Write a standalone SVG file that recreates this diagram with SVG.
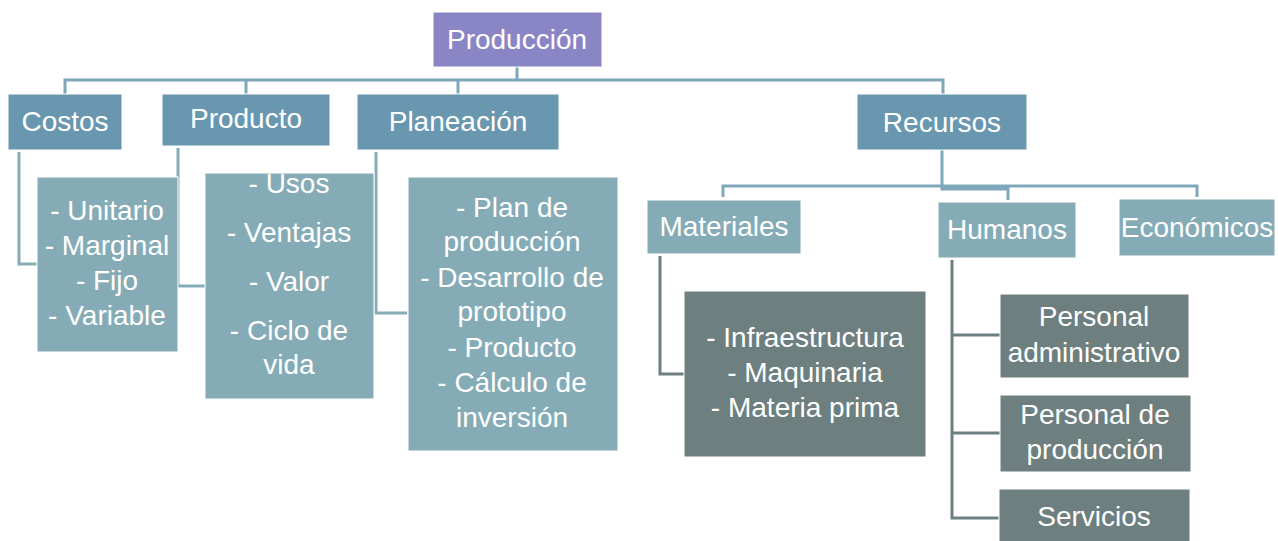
<svg xmlns="http://www.w3.org/2000/svg" width="1278" height="541" viewBox="0 0 1278 541">
<style>
text{font-family:"Liberation Sans",Arial,sans-serif;font-size:28px;fill:#fff;text-anchor:middle}
.root{fill:#8a86c6;stroke:#fff;stroke-width:1}
.l1{fill:#6997af;stroke:#fff;stroke-width:1}
.l2{fill:#85acb6;stroke:#fff;stroke-width:1}
.l3{fill:#6e7f80;stroke:#fff;stroke-width:1}
.c1{fill:none;stroke:#7ea7b9;stroke-width:3}
.c2{fill:none;stroke:#85acb6;stroke-width:3}
.c3{fill:none;stroke:#6e7f80;stroke-width:3}
</style>
<rect width="1278" height="541" fill="#fff"/>
<g id="connectors">
<path class="c1" d="M517 67V80M65 94V80H943V94M246 80V94M458 80V94"/>
<path class="c1" d="M942 150V186M723 197V186H1197V197M942 186V189H1008V200"/>
<path class="c2" d="M19 152V264H38"/>
<path class="c2" d="M178 148V286H205"/>
<path class="c2" d="M376 152V313H407"/>
<path class="c3" d="M660 256V374H684"/>
<path class="c3" d="M952 260V518H999M952 335H1000M952 433H1000"/>
</g>
<g id="produccion"><rect class="root" x="433" y="12" width="169" height="55"/><text x="517" y="49">Producción</text></g>
<g id="costos"><rect class="l1" x="8" y="94" width="114" height="56"/><text x="65" y="131">Costos</text></g>
<g id="producto"><rect class="l1" x="162" y="94" width="168" height="52"/><text x="246" y="128">Producto</text></g>
<g id="planeacion"><rect class="l1" x="357" y="94" width="202" height="56"/><text x="458" y="131">Planeación</text></g>
<g id="recursos"><rect class="l1" x="857" y="94" width="170" height="56"/><text x="942" y="132">Recursos</text></g>
<g id="costos-detalle"><rect class="l2" x="37" y="177" width="141" height="175"/>
<text x="107" y="220">- Unitario</text><text x="107" y="255">- Marginal</text><text x="107" y="290">- Fijo</text><text x="107" y="325">- Variable</text></g>
<g id="producto-detalle"><rect class="l2" x="205" y="173" width="169" height="226"/>
<text x="289" y="193">- Usos</text><text x="289" y="242">- Ventajas</text><text x="289" y="291">- Valor</text><text x="289" y="340">- Ciclo de</text><text x="289" y="374">vida</text></g>
<g id="planeacion-detalle"><rect class="l2" x="408" y="177" width="210" height="274"/>
<text x="512" y="217">- Plan de</text><text x="512" y="251">producción</text><text x="512" y="287">- Desarrollo de</text><text x="512" y="321">prototipo</text><text x="512" y="357">- Producto</text><text x="512" y="392">- Cálculo de</text><text x="512" y="427">inversión</text></g>
<g id="materiales"><rect class="l2" x="647" y="200" width="154" height="54"/><text x="724" y="236">Materiales</text></g>
<g id="humanos"><rect class="l2" x="938" y="202" width="138" height="56"/><text x="1007" y="239">Humanos</text></g>
<g id="economicos"><rect class="l2" x="1119" y="199" width="156" height="57"/><text x="1197" y="237">Económicos</text></g>
<g id="materiales-detalle"><rect class="l3" x="684" y="291" width="242" height="166"/>
<text x="805" y="347">- Infraestructura</text><text x="805" y="382">- Maquinaria</text><text x="805" y="417">- Materia prima</text></g>
<g id="personal-administrativo"><rect class="l3" x="1000" y="294" width="189" height="84"/><text x="1094" y="326">Personal</text><text x="1094" y="362">administrativo</text></g>
<g id="personal-produccion"><rect class="l3" x="1000" y="395" width="191" height="77"/><text x="1095" y="424">Personal de</text><text x="1095" y="459">producción</text></g>
<g id="servicios"><rect class="l3" x="999" y="489" width="191" height="55"/><text x="1094" y="526">Servicios</text></g>
</svg>
